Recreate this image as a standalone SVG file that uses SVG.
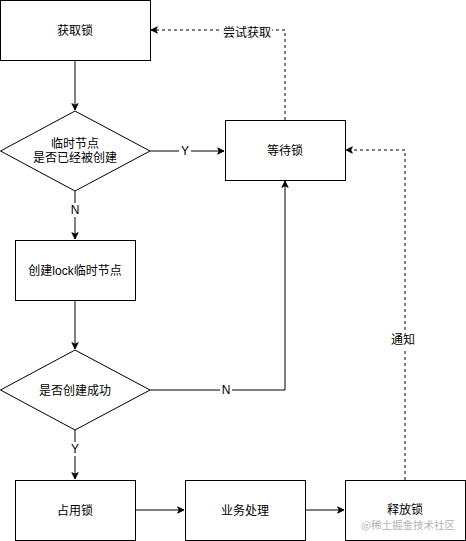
<svg xmlns="http://www.w3.org/2000/svg" width="466" height="541" viewBox="0 0 466 541">
<style>
.n{fill:#fff;stroke:#000;stroke-width:1}
.t{font-family:"Liberation Sans","Noto Sans CJK SC",sans-serif;font-size:12px;fill:#000;text-anchor:middle;dominant-baseline:central}
.e{fill:none;stroke:#000;stroke-width:1}
.d{stroke-dasharray:3 3}
.lb{fill:#fff}
</style>
<defs>
<marker id="a" viewBox="0 0 10 10" refX="9" refY="5" markerWidth="8" markerHeight="8" markerUnits="userSpaceOnUse" orient="auto">
<path d="M1,1 L9,5 L1,9 L3,5 Z" fill="#000" stroke="#000" stroke-width="1"/>
</marker>
</defs>
<rect width="466" height="541" fill="#fff"/>
<g id="connectors">
<path class="e" d="M75,60 V110" marker-end="url(#a)"/>
<path class="e" d="M150,151 H224" marker-end="url(#a)"/>
<path class="e" d="M75,191 V239" marker-end="url(#a)"/>
<path class="e" d="M75,300 V349" marker-end="url(#a)"/>
<path class="e" d="M150,390 H285 V181" marker-end="url(#a)"/>
<path class="e" d="M75,430 V479" marker-end="url(#a)"/>
<path class="e" d="M135,510 H184" marker-end="url(#a)"/>
<path class="e" d="M305,510 H344" marker-end="url(#a)"/>
<path class="e d" d="M285,120 V30 H151" marker-end="url(#a)"/>
<path class="e d" d="M405,480 V150 H346" marker-end="url(#a)"/>
<rect class="lb" x="179" y="144" width="12" height="14"/>
<text class="t" x="185" y="151">Y</text>
<rect class="lb" x="69" y="203" width="12" height="14"/>
<text class="t" x="75" y="210">N</text>
<rect class="lb" x="220" y="383" width="12" height="14"/>
<text class="t" x="226" y="390">N</text>
<rect class="lb" x="69" y="442" width="12" height="14"/>
<text class="t" x="75" y="449">Y</text>
<rect class="lb" x="222" y="25" width="50" height="16"/>
<text class="t" x="247" y="33">尝试获取</text>
<rect class="lb" x="390" y="332" width="30" height="16"/>
<text class="t" x="403" y="340">通知</text>
</g>
<g id="n1"><rect class="n" x="0.5" y="0.5" width="150" height="60"/><text class="t" x="75" y="31">获取锁</text></g>
<g id="n2"><path class="n" d="M75,111 L150,151 L75,191 L0.5,151 Z"/><text class="t" x="75" y="144">临时节点</text><text class="t" x="75" y="158">是否已经被创建</text></g>
<g id="n3"><rect class="n" x="225.5" y="120.5" width="120" height="60"/><text class="t" x="285" y="151">等待锁</text></g>
<g id="n4"><rect class="n" x="15.5" y="240.5" width="120" height="60"/><text class="t" x="75" y="271">创建lock临时节点</text></g>
<g id="n5"><path class="n" d="M75,350 L150,390 L75,430 L0.5,390 Z"/><text class="t" x="75" y="391">是否创建成功</text></g>
<g id="n6"><rect class="n" x="15.5" y="480.5" width="120" height="60"/><text class="t" x="75" y="511">占用锁</text></g>
<g id="n7"><rect class="n" x="185.5" y="480.5" width="120" height="60"/><text class="t" x="245" y="511">业务处理</text></g>
<g id="n8"><rect class="n" x="345.5" y="480.5" width="120" height="60"/><text class="t" x="405" y="510">释放锁</text></g>
<text x="408" y="524" style="font-family:'Noto Sans CJK SC',sans-serif;font-size:10.5px;fill:#b4b4b4;text-anchor:middle;dominant-baseline:central">@稀土掘金技术社区</text>
</svg>
